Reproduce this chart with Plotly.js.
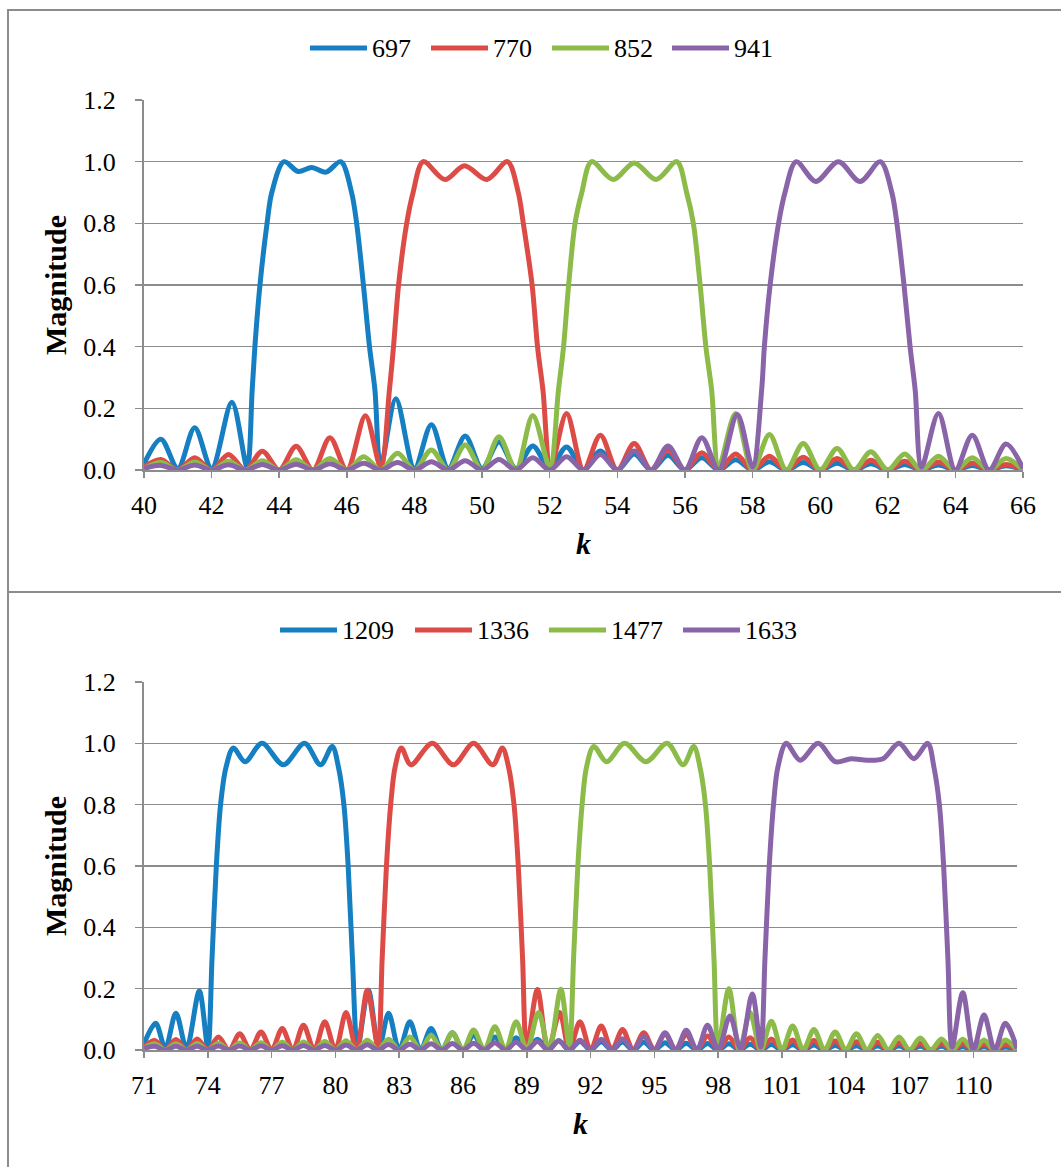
<!DOCTYPE html>
<html>
<head>
<meta charset="utf-8">
<script src="https://cdn.plot.ly/plotly-3.0.1.min.js"></script>
<style>
  html, body { margin:0; padding:0; background:#fff; width:1061px; height:1167px; overflow:hidden; }
  .frame { position:absolute; border:2px solid #8c8c8c; box-sizing:border-box; }
  #f1 { left:7px; top:9px; width:1100px; height:584px; }
  #f2 { left:7px; top:591px; width:1100px; height:700px; }
  #c1 { position:absolute; left:0; top:0; width:1061px; height:592px; }
  #c2 { position:absolute; left:0; top:593px; width:1061px; height:574px; }
</style>
</head>
<body>
<div class="frame" id="f1"></div>
<div class="frame" id="f2"></div>
<div id="c1"></div>
<div id="c2"></div>
<script>
// ---------- Top panel (low group) ----------
const names1 = ["697", "770", "852", "941"];
const k697 = [40,40.5,41,41.5,42,42.6,43.05,43.2,43.28,43.43,43.64,43.78,44.14,44.56,44.96,45.38,45.82,46.14,46.29,46.49,46.67,46.83,47.0,47.45,48,48.5,49,49.5,50,50.5,51,51.5,52,52.5,53,53.5,54,54.5,55,55.5,56,56.5,57,57.5,58,58.5,59,59.5,60,60.5,61,61.5,62,62.5,63,63.5,64,64.5,65,65.5,66];
const m697 = [0.02,0.10,0.005,0.137,0.005,0.22,0.01,0.26,0.4,0.6,0.8,0.9,1.0,0.968,0.981,0.966,1.0,0.9,0.8,0.6,0.4,0.26,0.01,0.231,0.005,0.147,0.005,0.11,0.005,0.091,0.005,0.078,0.005,0.075,0,0.062,0,0.052,0,0.048,0,0.04,0,0.033,0,0.027,0,0.024,0,0.022,0,0.02,0,0.018,0,0.016,0,0.015,0,0.014,0];
const k770 = [40,40.5,41,41.5,42,42.5,43,43.5,44,44.5,45,45.5,46,46.55,47.0,47.26,47.38,47.53,47.77,47.96,48.26,48.9,49.48,50.14,50.75,51.07,51.22,51.48,51.64,51.8,52.03,52.5,53,53.5,54,54.5,55,55.5,56,56.5,57,57.5,58,58.5,59,59.5,60,60.5,61,61.5,62,62.5,63,63.5,64,64.5,65,65.5,66];
const m770 = [0.01,0.034,0,0.04,0,0.05,0,0.061,0,0.077,0,0.105,0,0.176,0.01,0.26,0.4,0.6,0.8,0.9,1.0,0.942,0.987,0.942,1.0,0.9,0.8,0.6,0.4,0.26,0.01,0.183,0,0.113,0,0.086,0,0.065,0,0.056,0,0.052,0,0.045,0,0.041,0,0.037,0,0.032,0,0.028,0,0.026,0,0.022,0,0.018,0];
const k852 = [40,40.5,41,41.5,42,42.5,43,43.5,44,44.5,45,45.5,46,46.5,47,47.5,48,48.5,49,49.5,50,50.5,51,51.5,52.0,52.26,52.41,52.56,52.75,52.95,53.24,53.88,54.5,55.15,55.76,56.05,56.25,56.45,56.62,56.79,57.0,57.5,58,58.5,59,59.5,60,60.5,61,61.5,62,62.5,63,63.5,64,64.5,65,65.5,66];
const m852 = [0.005,0.024,0,0.026,0,0.028,0,0.03,0,0.033,0,0.037,0,0.043,0,0.054,0,0.065,0,0.081,0,0.108,0,0.177,0.01,0.26,0.4,0.6,0.8,0.9,1.0,0.942,0.996,0.942,1.0,0.9,0.8,0.6,0.4,0.26,0.01,0.183,0,0.115,0,0.086,0,0.07,0,0.059,0,0.052,0,0.045,0,0.04,0,0.037,0];
const k941 = [40,40.5,41,41.5,42,42.5,43,43.5,44,44.5,45,45.5,46,46.5,47,47.5,48,48.5,49,49.5,50,50.5,51,51.5,52,52.5,53,53.5,54,54.5,55,55.5,56,56.5,57,57.55,58.0,58.27,58.35,58.52,58.77,58.96,59.29,59.87,60.54,61.18,61.78,62.12,62.27,62.48,62.66,62.81,63.0,63.5,64,64.5,65,65.5,66];
const m941 = [0.005,0.015,0,0.016,0,0.017,0,0.018,0,0.019,0,0.02,0,0.022,0,0.024,0,0.027,0,0.03,0,0.034,0,0.04,0,0.043,0,0.05,0,0.062,0,0.078,0,0.105,0,0.18,0.01,0.26,0.4,0.6,0.8,0.9,1.0,0.936,1.0,0.936,1.0,0.9,0.8,0.6,0.4,0.26,0.01,0.183,0,0.113,0,0.084,0.005];

// ---------- Bottom panel (high group) ----------
const names2 = ["1209", "1336", "1477", "1633"];
const k1209 = [71,71.55,72,72.5,73,73.6,74.0,74.2,74.4,74.6,74.85,75.2,75.75,76.55,77.55,78.55,79.3,79.85,80.15,80.4,80.6,80.8,81.05,81.55,82.05,82.5,83,83.5,84,84.5,85,85.5,86,86.5,87,87.5,88,88.5,89,89.5,90,90.5,91,91.5,92,92.5,93,93.5,94,94.5,95,95.5,96,96.5,97,97.5,98,98.5,99,99.5,100,100.5,101,101.5,102,102.5,103,103.5,104,104.5,105,105.5,106,106.5,107,107.5,108,108.5,109,109.5,110,110.5,111,111.5,112.05];
const m1209 = [0.02,0.087,0.005,0.12,0.005,0.192,0.01,0.3,0.6,0.8,0.92,0.985,0.94,1.0,0.93,1.0,0.93,0.99,0.92,0.8,0.6,0.3,0.01,0.195,0.005,0.12,0,0.092,0,0.07,0,0.056,0,0.048,0,0.042,0,0.04,0,0.035,0,0.03,0,0.028,0,0.027,0,0.026,0,0.025,0,0.024,0,0.022,0,0.021,0,0.02,0,0.019,0,0.018,0,0.017,0,0.016,0,0.015,0,0.014,0,0.013,0,0.013,0,0.012,0,0.012,0,0.011,0,0.011,0,0.01,0];
const k1336 = [71,71.5,72,72.5,73,73.5,74,74.5,75,75.5,76,76.5,77,77.5,78,78.5,79,79.5,80,80.5,81,81.5,82.0,82.2,82.4,82.6,82.8,83.1,83.55,84.55,85.55,86.5,87.4,87.85,88.15,88.4,88.6,88.8,89.0,89.5,90,90.55,91,91.5,92,92.5,93,93.5,94,94.5,95,95.5,96,96.5,97,97.5,98,98.5,99,99.5,100,100.5,101,101.5,102,102.5,103,103.5,104,104.5,105,105.5,106,106.5,107,107.5,108,108.5,109,109.5,110,110.5,111,111.5,112.05];
const m1336 = [0.01,0.031,0,0.034,0,0.036,0,0.042,0,0.053,0,0.059,0,0.07,0,0.081,0,0.092,0,0.122,0,0.195,0.01,0.3,0.6,0.8,0.92,0.985,0.93,1.0,0.93,1.0,0.93,0.985,0.92,0.8,0.6,0.3,0.01,0.197,0,0.122,0,0.092,0,0.078,0,0.067,0,0.056,0,0.053,0,0.05,0,0.046,0,0.042,0,0.04,0,0.036,0,0.033,0,0.031,0,0.029,0,0.027,0,0.025,0,0.024,0,0.022,0,0.021,0,0.02,0,0.019,0,0.018,0];
const k1477 = [71,71.5,72,72.5,73,73.5,74,74.5,75,75.5,76,76.5,77,77.5,78,78.5,79,79.5,80,80.5,81,81.5,82,82.5,83,83.5,84,84.5,85,85.5,86,86.5,87,87.5,88,88.5,89,89.55,90.05,90.6,91.0,91.2,91.4,91.6,91.8,92.15,92.75,93.6,94.6,95.6,96.35,96.85,97.15,97.4,97.6,97.8,98.0,98.5,99,99.5,100,100.5,101,101.5,102,102.5,103,103.5,104,104.5,105,105.5,106,106.5,107,107.5,108,108.5,109,109.5,110,110.5,111,111.5,112.05];
const m1477 = [0.005,0.02,0,0.02,0,0.021,0,0.022,0,0.023,0,0.024,0,0.025,0,0.026,0,0.028,0,0.03,0,0.032,0,0.035,0,0.042,0,0.048,0,0.056,0,0.065,0,0.076,0,0.092,0,0.122,0,0.198,0.01,0.3,0.6,0.8,0.92,0.99,0.94,1.0,0.94,1.0,0.93,0.99,0.92,0.8,0.6,0.3,0.01,0.2,0,0.122,0,0.094,0,0.078,0,0.067,0,0.059,0,0.053,0,0.047,0,0.042,0,0.039,0,0.036,0,0.035,0,0.033,0,0.033,0];
const k1633 = [71,71.5,72,72.5,73,73.5,74,74.5,75,75.5,76,76.5,77,77.5,78,78.5,79,79.5,80,80.5,81,81.5,82,82.5,83,83.5,84,84.5,85,85.5,86,86.5,87,87.5,88,88.5,89,89.5,90,90.5,91,91.5,92,92.5,93,93.5,94,94.5,95,95.5,96,96.5,97,97.5,98,98.55,99.05,99.6,100.0,100.2,100.4,100.6,100.8,101.2,101.85,102.7,103.5,104.25,105.0,105.75,106.5,107.2,107.85,108.15,108.4,108.6,108.8,109.0,109.5,110,110.5,111,111.5,112.05];
const m1633 = [0.005,0.012,0,0.012,0,0.012,0,0.013,0,0.013,0,0.014,0,0.014,0,0.015,0,0.015,0,0.016,0,0.017,0,0.018,0,0.019,0,0.02,0,0.021,0,0.022,0,0.024,0,0.025,0,0.028,0,0.03,0,0.032,0,0.035,0,0.037,0,0.044,0,0.056,0,0.064,0,0.081,0,0.111,0.005,0.183,0.01,0.3,0.6,0.8,0.92,1.0,0.945,1.0,0.94,0.95,0.945,0.95,1.0,0.95,1.0,0.92,0.8,0.6,0.3,0.01,0.187,0,0.114,0,0.087,0.005];

const colors = ["#157fc2", "#dd4b47", "#8cbb49", "#8964a8"];
const FONT = "'Liberation Serif', 'Times New Roman', serif";

function mkTraces(ks, ms, names) {
  return ks.map((k, i) => ({
    x: k, y: ms[i], name: names[i], type: "scatter", mode: "lines",
    line: { color: colors[i], width: 5, shape: "spline", smoothing: 0.9 },
    hoverinfo: "skip", showlegend: false
  }));
}

// legend drawn in pixel positions of the figure (converted to paper coords)
function mkLegend(names, starts, py, m, W, H) {
  const pw = W - m.l - m.r, ph = H - m.t - m.b;
  const fx = px => (px - m.l) / pw;
  const fy = yy => (H - m.b - yy) / ph;
  const shapes = [], ann = [];
  names.forEach((n, i) => {
    const x0 = starts[i];
    shapes.push({ type: "line", xref: "paper", yref: "paper", x0: fx(x0), x1: fx(x0 + 57),
      y0: fy(py), y1: fy(py), line: { color: colors[i], width: 5 }, layer: "above" });
    ann.push({ xref: "paper", yref: "paper", x: fx(x0 + 60), y: fy(py), text: n, showarrow: false,
      xanchor: "left", yanchor: "middle", font: { family: FONT, size: 26, color: "#000" } });
  });
  return { shapes, ann };
}

function mkLayout(xr, dtick, m, leg) {
  return {
    width: 1061, height: m.h,
    margin: { l: m.l, r: m.r, t: m.t, b: m.b },
    paper_bgcolor: "rgba(0,0,0,0)", plot_bgcolor: "rgba(0,0,0,0)",
    font: { family: FONT, size: 26, color: "#000" },
    showlegend: false,
    shapes: leg.shapes, annotations: leg.ann,
    xaxis: {
      range: xr, tick0: xr[0], dtick: dtick, tickmode: "linear",
      showgrid: false, zeroline: false,
      showline: true, linecolor: "#8c8c8c", linewidth: 2,
      ticks: "outside", ticklen: 6, tickwidth: 1.5, tickcolor: "#8c8c8c",
      ticklabelstandoff: 5,
      tickfont: { family: FONT, size: 26 },
      title: { text: "<b><i>k</i></b>", font: { family: FONT, size: 30 }, standoff: 14 },
      automargin: false, fixedrange: true
    },
    yaxis: {
      range: [0, 1.2], dtick: 0.2, tick0: 0, tickformat: ".1f",
      showgrid: true, gridcolor: "#8c8c8c", gridwidth: 1.4,
      zeroline: false, showline: true, linecolor: "#8c8c8c", linewidth: 2,
      ticks: "outside", ticklen: 7, tickwidth: 1.5, tickcolor: "#8c8c8c",
      ticklabelstandoff: 14,
      tickfont: { family: FONT, size: 26 },
      title: { text: "<b>Magnitude</b>", font: { family: FONT, size: 30 }, standoff: 8 },
      automargin: false, fixedrange: true
    }
  };
}

const M1 = { l: 144, r: 38, t: 100, b: 122, h: 592 };
const M2 = { l: 144, r: 44, t: 89, b: 117, h: 574 };

Plotly.newPlot("c1",
  mkTraces([k697, k770, k852, k941], [m697, m770, m852, m941], names1),
  mkLayout([40, 66], 2, M1, mkLegend(names1, [310, 431, 552, 672], 48, M1, 1061, 592)),
  { staticPlot: true });

Plotly.newPlot("c2",
  mkTraces([k1209, k1336, k1477, k1633], [m1209, m1336, m1477, m1633], names2),
  mkLayout([71, 112.05], 3, M2, mkLegend(names2, [280, 415, 549, 683], 630 - 593, M2, 1061, 574)),
  { staticPlot: true });
</script>
</body>
</html>
